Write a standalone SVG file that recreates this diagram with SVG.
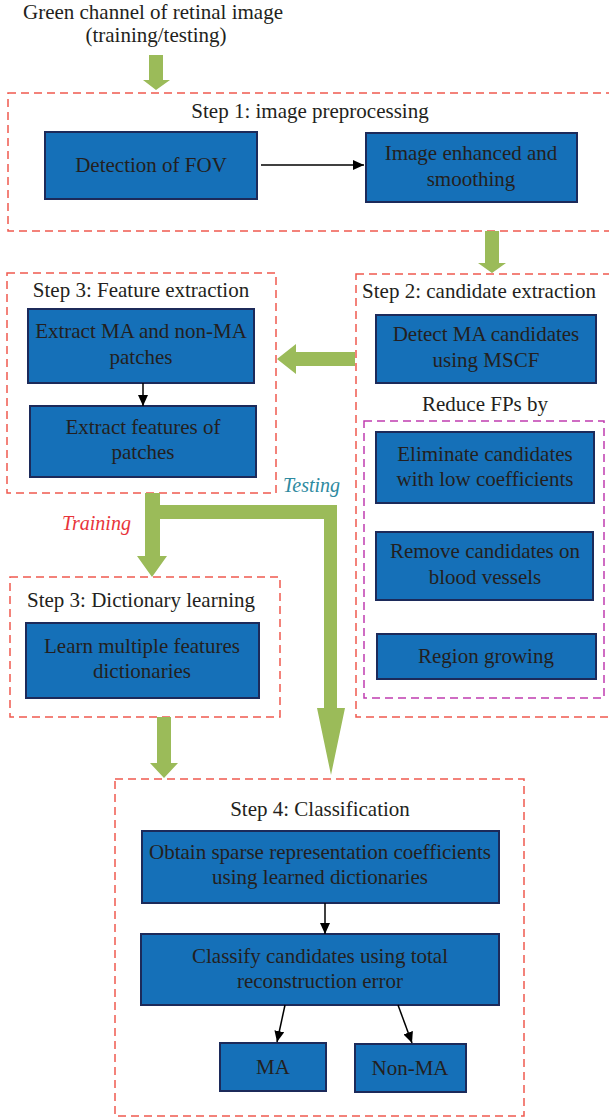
<svg xmlns="http://www.w3.org/2000/svg" width="609" height="1117" viewBox="0 0 609 1117">
<style>
text{font-family:"Liberation Serif","Times New Roman",serif;font-size:21px;fill:#231f20;text-anchor:middle}
.box{fill:#1570b8;stroke:#1c2a5a;stroke-width:2}
.grp{fill:none;stroke:#f05a4f;stroke-width:1.5;stroke-dasharray:8 5}
.mag{fill:none;stroke:#c03cb0;stroke-width:1.5;stroke-dasharray:8 5}
.green{fill:#9bbb59}
.blk{stroke:#000;stroke-width:1.5;fill:none;marker-end:url(#ah)}
.it{font-style:italic;font-size:20px;text-anchor:start}
</style>
<defs>
<marker id="ah" markerUnits="userSpaceOnUse" markerWidth="12" markerHeight="10" refX="11" refY="5" orient="auto">
<path d="M0,0 L11,5 L0,10 z" fill="#000"/>
</marker>
</defs>
<g id="input">
<text x="153" y="19">Green channel of retinal image</text>
<text x="156" y="42">(training/testing)</text>
</g>
<g id="step1">
<rect class="grp" x="8" y="93" width="610" height="138"/>
<text x="310" y="118">Step 1: image preprocessing</text>
</g>
<g id="fov">
<rect class="box" x="45" y="132" width="212" height="67"/>
<text x="151" y="172">Detection of FOV</text>
</g>
<g id="enhance">
<rect class="box" x="366" y="133" width="211" height="69"/>
<text x="471" y="160">Image enhanced and</text>
<text x="471" y="186">smoothing</text>
</g>
<g id="step3fe">
<rect class="grp" x="7" y="273" width="269" height="220"/>
<text x="141" y="297">Step 3: Feature extraction</text>
</g>
<g id="extractma">
<rect class="box" x="28" y="309" width="226" height="74"/>
<text x="141" y="338">Extract MA and non-MA</text>
<text x="141" y="364">patches</text>
</g>
<g id="extractfeat">
<rect class="box" x="30" y="406" width="226" height="71"/>
<text x="143" y="434">Extract features of</text>
<text x="143" y="459">patches</text>
</g>
<g id="step2">
<rect class="grp" x="356" y="274" width="262" height="443"/>
<text x="479" y="298">Step 2: candidate extraction</text>
</g>
<g id="detect">
<rect class="box" x="376" y="315" width="220" height="68"/>
<text x="486" y="341">Detect MA candidates</text>
<text x="486" y="367">using MSCF</text>
</g>
<g id="reduce">
<text x="485" y="411">Reduce FPs by</text>
<rect class="mag" x="364" y="421" width="240" height="277"/>
</g>
<g id="eliminate">
<rect class="box" x="376" y="432" width="218" height="71"/>
<text x="485" y="461">Eliminate candidates</text>
<text x="485" y="486">with low coefficients</text>
</g>
<g id="remove">
<rect class="box" x="376" y="532" width="217" height="68"/>
<text x="485" y="558">Remove candidates on</text>
<text x="485" y="584">blood vessels</text>
</g>
<g id="region">
<rect class="box" x="377" y="634" width="219" height="45"/>
<text x="486" y="663">Region growing</text>
</g>
<g id="step3dl">
<rect class="grp" x="10" y="577" width="270" height="140"/>
<text x="141" y="607">Step 3: Dictionary learning</text>
</g>
<g id="learn">
<rect class="box" x="26" y="623" width="233" height="75"/>
<text x="142" y="653">Learn multiple features</text>
<text x="142" y="678">dictionaries</text>
</g>
<g id="step4">
<rect class="grp" x="115" y="779" width="409" height="337"/>
<text x="320" y="816">Step 4: Classification</text>
</g>
<g id="obtain">
<rect class="box" x="142" y="831" width="357" height="72"/>
<text x="320" y="859">Obtain sparse representation coefficients</text>
<text x="320" y="884">using learned dictionaries</text>
</g>
<g id="classify">
<rect class="box" x="141" y="934" width="358" height="71"/>
<text x="320" y="963">Classify candidates using total</text>
<text x="320" y="988">reconstruction error</text>
</g>
<g id="ma">
<rect class="box" x="220" y="1043" width="106" height="48"/>
<text x="273" y="1074">MA</text>
</g>
<g id="nonma">
<rect class="box" x="355" y="1044" width="111" height="48"/>
<text x="410" y="1075">Non-MA</text>
</g>
<g id="connectors">
<polygon class="green" points="149,55 163,55 163,80 170,80 156,90 143,80 149,80"/>
<polygon class="green" points="485,231 499,231 499,263 506,263 492,273 478,263 485,263"/>
<polygon class="green" points="355,352 296,352 296,344 277,359 296,374 296,366 355,366"/>
<polygon class="green" points="145,493 160,493 160,505 337,505 337,708 345,708 331,775 317,708 324,708 324,519 160,519 160,556 167,556 152,577 137,556 145,556"/>
<polygon class="green" points="157,717 171,717 171,763 178,763 164,778 150,763 157,763"/>
<line class="blk" x1="261" y1="165" x2="364" y2="165"/>
<line class="blk" x1="143" y1="383" x2="143" y2="406"/>
<line class="blk" x1="325" y1="903" x2="325" y2="934"/>
<line class="blk" x1="285" y1="1005" x2="277" y2="1042"/>
<line class="blk" x1="398" y1="1005" x2="412" y2="1043"/>
<text class="it" x="283" y="492" style="fill:#2e8aa0">Testing</text>
<text class="it" x="62" y="530" style="fill:#e8343a">Training</text>
</g>
</svg>
